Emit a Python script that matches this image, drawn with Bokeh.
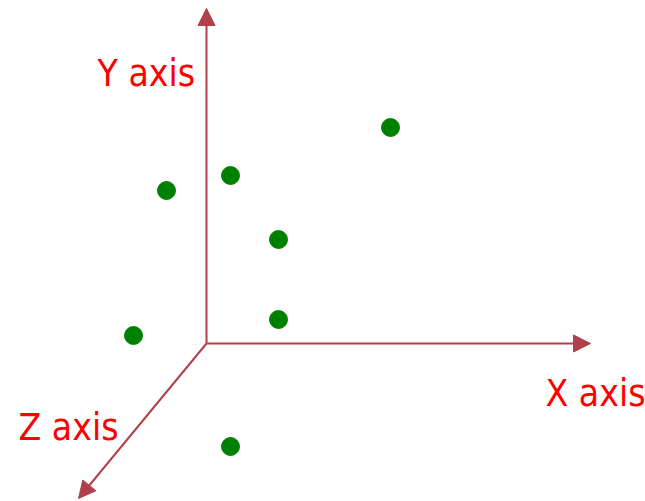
from bokeh.plotting import figure
from bokeh.models import Arrow, NormalHead, Range1d
from bokeh.core.properties import value
from bokeh.embed import file_html
from bokeh.resources import INLINE

# Data points (projected 2D coordinates, origin at axes intersection)
px = [184, 24, -40, 72, -73, 72, 24]
py = [216, 168, 153, 104, 8, 24, -103]

# Axis arrow end points
axis_names = ["X axis", "Y axis", "Z axis"]
axis_end_x = [384, 0, -128]
axis_end_y = [0, 335, -155]

p = figure(width=645, height=501, output_backend="svg", toolbar_location=None,
           x_range=Range1d(-206, 439), y_range=Range1d(-158, 343),
           min_border=0, min_border_left=0, min_border_right=0,
           min_border_top=0, min_border_bottom=0)
p.axis.visible = False
p.grid.visible = False
p.outline_line_color = None
p.background_fill_color = "white"
p.border_fill_color = "white"

axis_color = "#b0414b"
for ex, ey in zip(axis_end_x, axis_end_y):
    p.add_layout(Arrow(end=NormalHead(size=17, fill_color=axis_color, line_color=axis_color),
                       x_start=0, y_start=0, x_end=ex, y_end=ey,
                       line_color=axis_color, line_width=2))

p.scatter(px, py, size=18, fill_color="#008000", line_color="#008000")

label_x = [339, -109, -188]
label_y = [-50, 270, -84]
p.text(x=label_x, y=label_y, text=axis_names, text_color="#ff0000",
       text_font=value("DejaVu Sans Condensed"), text_font_size="37px",
       text_align="left", text_baseline="alphabetic")

open("out.html", "w").write(file_html(p, INLINE))
